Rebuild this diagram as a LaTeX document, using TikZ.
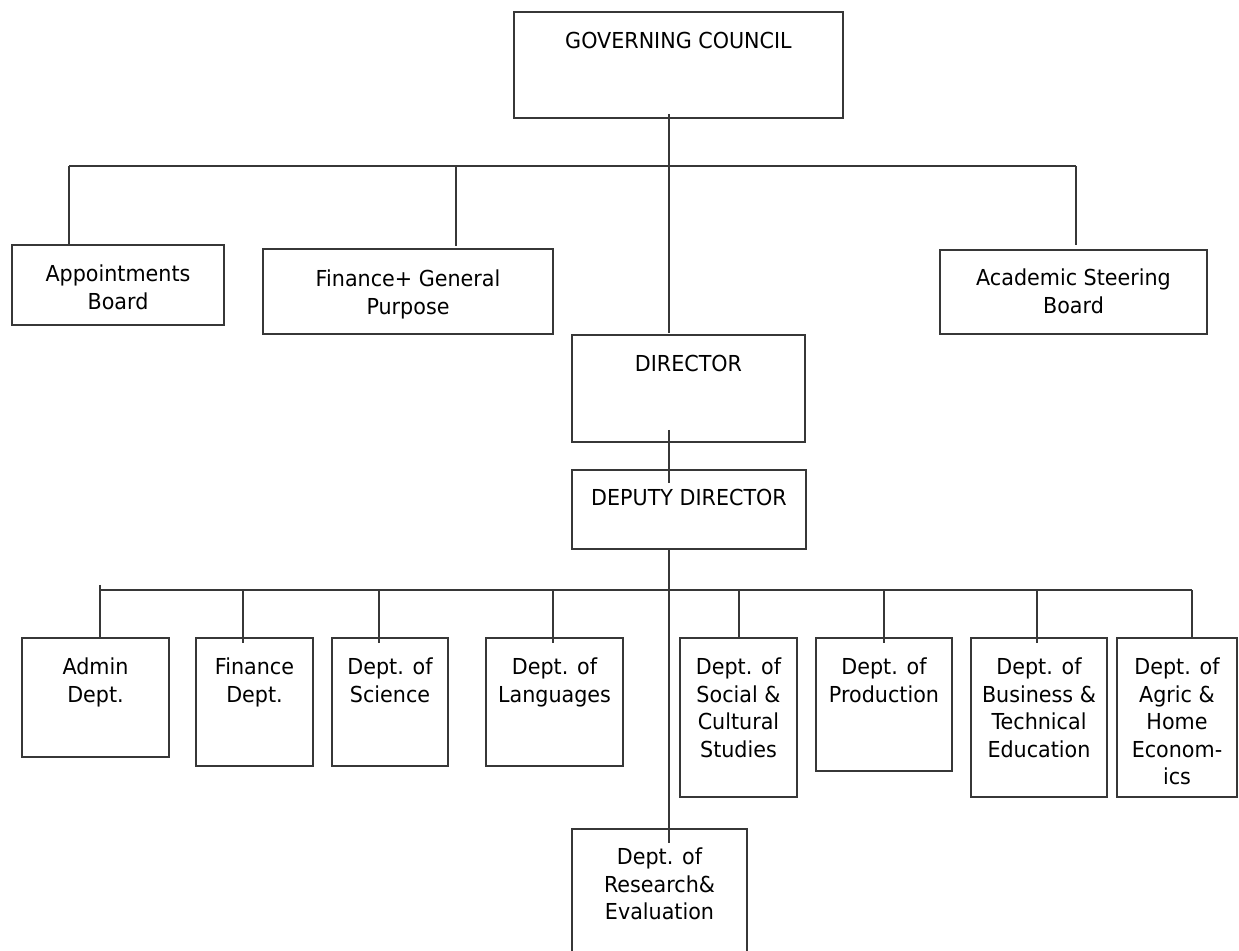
\documentclass[tikz,border=0pt]{standalone}
\usepackage{fontspec}
\setmainfont{DejaVu Sans}[FakeStretch=0.94]
\usetikzlibrary{calc}
\definecolor{linegray}{RGB}{55,55,55}
\tikzset{
  orgbox/.style={draw=linegray, line width=1pt, inner sep=0pt, outer sep=0pt},
  boxtext/.style={font=\fontsize{11}{13.75}\selectfont, align=center, inner sep=0pt, anchor=base, text=black},
  link/.style={draw=linegray, line width=1pt},
}
% \orgunit{name}{x1}{y1}{x2}{y2}{text x}{first baseline y}{lines}{text}
% the base anchor of a multi-line node sits on its last line (27.5 units apart)
\newcommand\orgunit[9]{%
  \node[orgbox, minimum width={(#4-#2)*0.5pt}, minimum height={(#5-#3)*0.5pt}]
    (#1) at ({(#2+#4)/2},{(#3+#5)/2}) {};
  \node[boxtext] (#1-t) at (#6,{#7+(#8-1)*27.5}) {#9};}
\begin{document}
\begin{tikzpicture}[x=0.5pt, y=-0.5pt]
\useasboundingbox (0,0) rectangle (1239,951);

% upper level
\orgunit{gc}{514}{12}{843}{118}{678.5}{48.5}{1}{GOVERNING COUNCIL}
\orgunit{appt}{12}{245}{224}{325}{118}{282}{2}{Appointments\\Board}
\orgunit{fgp}{263}{249}{553}{334}{408}{287}{2}{Finance+ General\\Purpose}
\orgunit{asb}{940}{250}{1207}{334}{1073.5}{286}{2}{Academic Steering\\Board}
\orgunit{dir}{572}{335}{805}{442}{688.5}{372}{1}{DIRECTOR}
\orgunit{dep}{572}{470}{806}{549}{689}{506}{1}{DEPUTY DIRECTOR}

% departments
\orgunit{adm}{22}{638}{169}{757}{95.5}{675}{2}{Admin\\Dept.}
\orgunit{fin}{196}{638}{313}{766}{254.5}{675}{2}{Finance\\Dept.}
\orgunit{sci}{332}{638}{448}{766}{390}{675}{2}{Dept. of\\Science}
\orgunit{lang}{486}{638}{623}{766}{554.5}{675}{2}{Dept. of\\Languages}
\orgunit{soc}{680}{638}{797}{797}{738.5}{675}{4}{Dept. of\\Social \&\\Cultural\\Studies}
\orgunit{prod}{816}{638}{952}{771}{884}{675}{2}{Dept. of\\Production}
\orgunit{bus}{971}{638}{1107}{797}{1039}{675}{4}{Dept. of\\Business \&\\Technical\\Education}
\orgunit{agr}{1117}{638}{1237}{797}{1177}{675}{5}{Dept. of\\Agric \&\\Home\\Econom-\\ics}
\orgunit{res}{572}{829}{747}{965}{659.5}{865}{3}{Dept. of\\Research\&\\Evaluation}

% upper bus
\coordinate (tb-l) at (69,166);
\coordinate (tb-f) at (456,166);
\coordinate (tb-r) at (1076,166);
\draw[link] (tb-l) -- (tb-r);
\draw[link] (tb-l) -- (tb-l |- appt.north);
\draw[link] (tb-f) -- ($(tb-f |- fgp.north)+(0,-3)$);
\draw[link] (tb-r) -- ($(tb-r |- asb.north)+(0,-5)$);

% main spine
\coordinate (sp) at (669,0);
\draw[link] ($(sp |- gc.south)+(0,-4)$) -- ($(sp |- dir.north)+(0,-2)$);
\draw[link] ($(sp |- dir.south)+(0,-12)$) -- ($(sp |- dep.north)+(0,13)$);
\draw[link] (sp |- dep.south) -- ($(sp |- res.north)+(0,14)$);

% lower bus
\coordinate (bb-l) at (100,590);
\coordinate (bb-fin) at (243,590);
\coordinate (bb-sci) at (379,590);
\coordinate (bb-lang) at (553,590);
\coordinate (bb-soc) at (739,590);
\coordinate (bb-prod) at (884,590);
\coordinate (bb-bus) at (1037,590);
\coordinate (bb-r) at (1192,590);
\draw[link] (bb-l) -- (bb-r);
\draw[link] ($(bb-l)+(0,-5)$) -- (bb-l |- adm.north);
\draw[link] (bb-fin) -- ($(bb-fin |- fin.north)+(0,5)$);
\draw[link] (bb-sci) -- ($(bb-sci |- sci.north)+(0,5)$);
\draw[link] (bb-lang) -- ($(bb-lang |- lang.north)+(0,5)$);
\draw[link] (bb-soc) -- (bb-soc |- soc.north);
\draw[link] (bb-prod) -- ($(bb-prod |- prod.north)+(0,5)$);
\draw[link] (bb-bus) -- ($(bb-bus |- bus.north)+(0,5)$);
\draw[link] (bb-r) -- (bb-r |- agr.north);
\end{tikzpicture}
\end{document}
